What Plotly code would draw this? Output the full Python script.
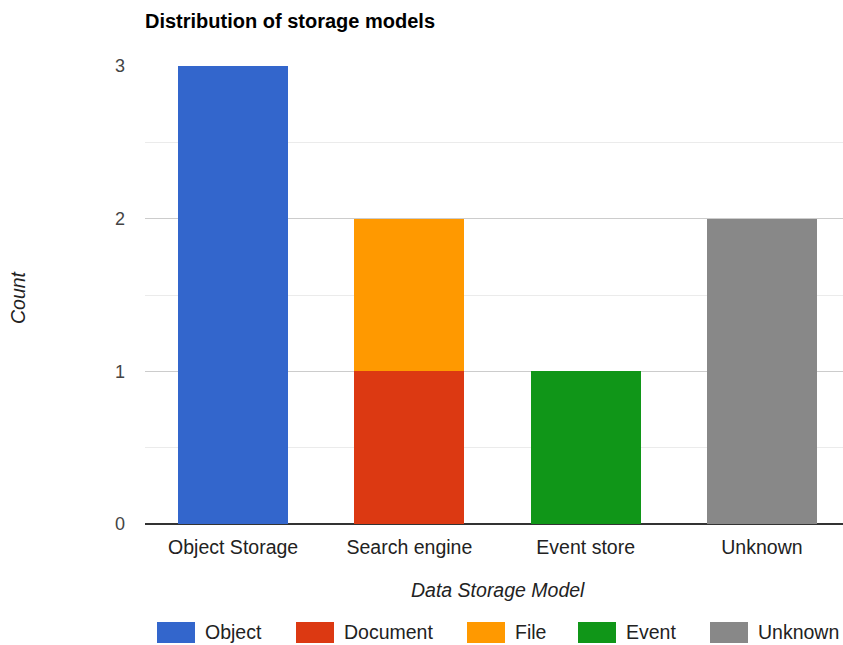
import plotly.graph_objects as go

# Storage model categories on the x axis
categories = ["Object Storage", "Search engine", "Event store", "Unknown"]

# Series names, colours and counts per category
series_names = ["Object", "Document", "File", "Event", "Unknown"]
series_colors = ["#3366cc", "#dc3912", "#ff9900", "#109618", "#888888"]
object_counts = [3, 0, 0, 0]
document_counts = [0, 1, 0, 0]
file_counts = [0, 1, 0, 0]
event_counts = [0, 0, 1, 0]
unknown_counts = [0, 0, 0, 2]
series_values = [object_counts, document_counts, file_counts, event_counts, unknown_counts]

FONT = "Liberation Sans, Arial, sans-serif"
LABEL_SIZE = 19.5

fig = go.Figure()
for name, color, vals in zip(series_names, series_colors, series_values):
    fig.add_trace(go.Bar(
        x=categories, y=vals, name=name,
        marker=dict(color=color, line=dict(width=0)),
        showlegend=False,
    ))

# Custom legend row under the chart: wide swatches with labels
legend_swatch_x = [157, 296, 467, 578, 710]
W, H = 843, 645
PL, PT, PB = 145, 66, 524


def px(x):
    return (x - PL) / (W - PL)


def py(y):
    return (PB - y) / (PB - PT)


shapes = []
annotations = []
for name, color, sx in zip(series_names, series_colors, legend_swatch_x):
    shapes.append(dict(
        type="rect", xref="paper", yref="paper",
        x0=px(sx), x1=px(sx + 38), y0=py(643), y1=py(622),
        fillcolor=color, line=dict(width=0), layer="above",
    ))
    annotations.append(dict(
        text=name, xref="paper", yref="paper",
        x=px(sx + 46), y=py(632),
        xanchor="left", yanchor="middle", showarrow=False,
        font=dict(family=FONT, size=LABEL_SIZE, color="#222222"),
    ))

# Axis titles
annotations.append(dict(
    text="<i>Data Storage Model</i>", xref="paper", yref="paper",
    x=px(498), y=py(590),
    xanchor="center", yanchor="middle", showarrow=False,
    font=dict(family=FONT, size=LABEL_SIZE, color="#222222"),
))
annotations.append(dict(
    text="<i>Count</i>", xref="paper", yref="paper",
    x=px(18), y=py(297),
    xanchor="center", yanchor="middle", showarrow=False, textangle=-90,
    font=dict(family=FONT, size=LABEL_SIZE, color="#222222"),
))
# Chart title
annotations.append(dict(
    text="<b>Distribution of storage models</b>", xref="paper", yref="paper",
    x=px(143), y=py(21),
    xanchor="left", yanchor="middle", showarrow=False,
    font=dict(family=FONT, size=20, color="#000000"),
))

fig.update_layout(
    width=W, height=H,
    margin=dict(l=PL, r=0, t=PT, b=H - PB),
    barmode="stack", bargap=0.375,
    plot_bgcolor="white", paper_bgcolor="white",
    font=dict(family=FONT, size=LABEL_SIZE, color="#444444"),
    shapes=shapes, annotations=annotations,
    xaxis=dict(
        range=[-0.5, 3.46], showgrid=False, showline=False, zeroline=False,
        ticks="", ticklabelstandoff=9,
        tickfont=dict(size=LABEL_SIZE, color="#222222"),
    ),
    yaxis=dict(
        range=[0, 3], dtick=1, tick0=0, showgrid=True, gridcolor="#cccccc",
        gridwidth=1, zeroline=True, zerolinecolor="#333333", zerolinewidth=2,
        showline=False, ticks="", ticklabelstandoff=19,
        tickfont=dict(size=18, color="#444444"),
        minor=dict(dtick=0.5, tick0=0, showgrid=True, gridcolor="#ebebeb", gridwidth=1),
    ),
)

fig.write_html("out.html")
